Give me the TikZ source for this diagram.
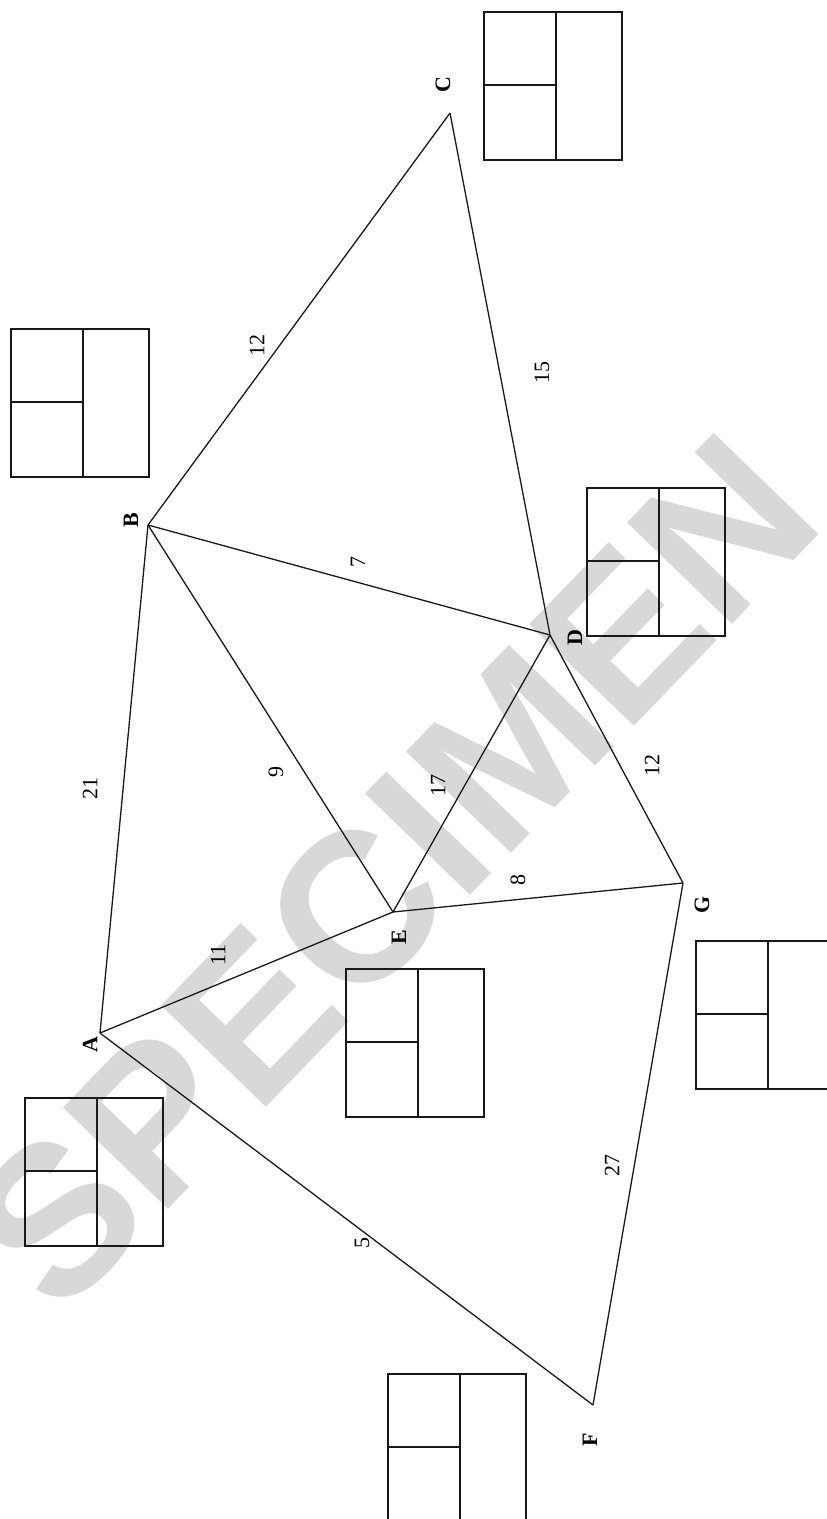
\documentclass[tikz,border=0pt]{standalone}
\usepackage{fontspec}
\setmainfont{Liberation Serif}
\newfontfamily\wmfont{Liberation Sans}
\definecolor{wmgray}{RGB}{216,216,216}
\definecolor{ink}{RGB}{25,25,25}
\tikzset{
  edge/.style={draw=ink, line width=1.3pt},
  boxline/.style={draw=ink, line width=1.8pt},
  vlabel/.style={font=\fontsize{22}{24}\selectfont\bfseries, rotate=90, inner sep=0pt},
  wlabel/.style={font=\fontsize{22}{24}\selectfont, rotate=90, inner sep=0pt},
  watermark/.style={font=\wmfont\bfseries\fontsize{212}{220}\selectfont, text=wmgray, rotate=46, inner sep=0pt},
  cellbox/.pic={
    \draw[boxline] (0,0) rectangle (138,148);
    \draw[boxline] (72,0) -- (72,148);
    \draw[boxline] (0,73) -- (72,73);
  }
}
\begin{document}
\begin{tikzpicture}[x=1pt,y=-1pt]
\useasboundingbox (0,0) rectangle (827,1519);
\clip (0,0) rectangle (827,1519);
\fill[white] (0,0) rectangle (827,1519);
% watermark
\node[watermark] (wm) at (392,872) {SPECIMEN};
% vertices
\coordinate (A) at (100,1033);
\coordinate (B) at (148,525);
\coordinate (C) at (450,113);
\coordinate (D) at (550,635);
\coordinate (E) at (393,912);
\coordinate (F) at (593,1405);
\coordinate (G) at (683,883);
% edges
\draw[edge] (A) -- (B);
\draw[edge] (B) -- (C);
\draw[edge] (C) -- (D);
\draw[edge] (B) -- (D);
\draw[edge] (B) -- (E);
\draw[edge] (E) -- (D);
\draw[edge] (D) -- (G);
\draw[edge] (E) -- (G);
\draw[edge] (A) -- (E);
\draw[edge] (A) -- (F);
\draw[edge] (F) -- (G);
% vertex labels
\node[vlabel] (lA) at (90,1045) {A};
\node[vlabel] (lB) at (131,520) {B};
\node[vlabel] (lC) at (443,85) {C};
\node[vlabel] (lD) at (575,638) {D};
\node[vlabel] (lE) at (399,937) {E};
\node[vlabel] (lF) at (590,1440) {F};
\node[vlabel] (lG) at (702,905) {G};
% edge labels
\node[wlabel] (wAB) at (90,788) {21};
\node[wlabel] (wBC) at (257,345) {12};
\node[wlabel] (wCD) at (542,372) {15};
\node[wlabel] (wBD) at (358,562) {7};
\node[wlabel] (wBE) at (276,772) {9};
\node[wlabel] (wED) at (438,785) {17};
\node[wlabel] (wDG) at (652,765) {12};
\node[wlabel] (wEG) at (518,880) {8};
\node[wlabel] (wAE) at (218,955) {11};
\node[wlabel] (wAF) at (362,1243) {5};
\node[wlabel] (wFG) at (612,1165) {27};
% boxes
\pic at (484,12) {cellbox};
\pic at (11,329) {cellbox};
\pic at (587,488) {cellbox};
\pic at (346,969) {cellbox};
\pic at (25,1098) {cellbox};
\pic at (696,941) {cellbox};
\pic at (388,1374) {cellbox};
\end{tikzpicture}
\end{document}
